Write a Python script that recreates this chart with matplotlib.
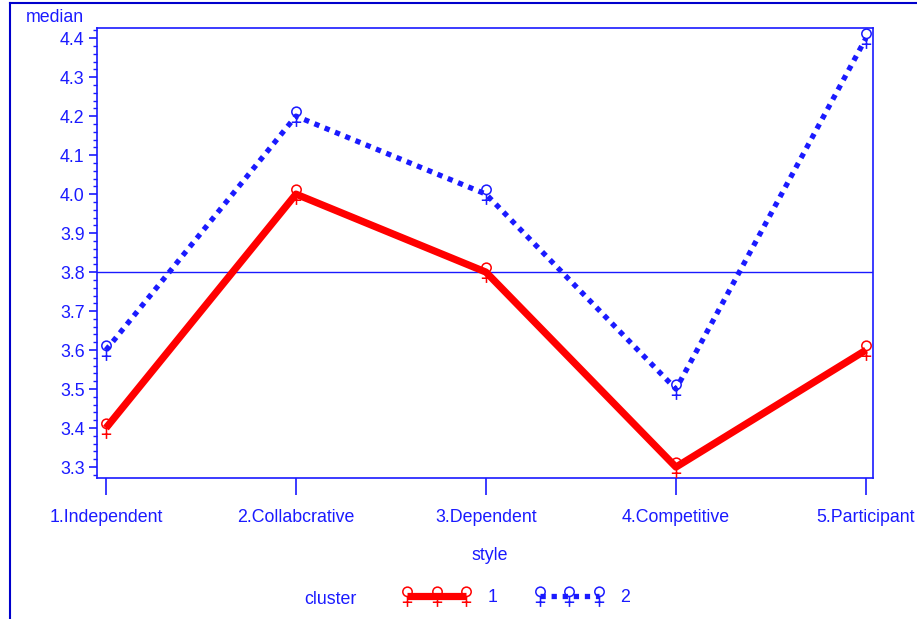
import matplotlib
matplotlib.use("Agg")
import matplotlib.pyplot as plt
from matplotlib.path import Path
from matplotlib.lines import Line2D
from matplotlib.ticker import MultipleLocator, AutoMinorLocator

styles = ["1.Independent", "2.Collabcrative", "3.Dependent", "4.Competitive", "5.Participant"]
cluster1 = [3.4, 4.0, 3.8, 3.3, 3.6]
cluster2 = [3.6, 4.2, 4.0, 3.5, 4.4]
ref_value = 3.8

BLUE = "#1a1aff"
RED = "#ff0000"
plt.rcParams["font.family"] = ["Liberation Sans", "DejaVu Sans"]

# SAS-like "female" symbol: circle on top, cross below
circle = Path.circle((0, 0.45), 0.45)
stem = Path([(0, 0.0), (0, -1.0), (-0.45, -0.55), (0.45, -0.55)],
            [Path.MOVETO, Path.LINETO, Path.MOVETO, Path.LINETO])
sym = Path.make_compound_path(circle, stem)

fig = plt.figure(figsize=(9.17, 6.19), dpi=100)
ax = fig.add_axes([97 / 917, 1 - 478 / 619, (873 - 97) / 917, (478 - 28) / 619])

x = list(range(1, len(styles) + 1))
ax.axhline(ref_value, color=BLUE, lw=1.0, zorder=1)
l1, = ax.plot(x, cluster1, color=RED, lw=5.2, solid_capstyle="butt",
              marker=sym, ms=15, mfc="none", mec=RED, mew=1.1, zorder=3)
l2, = ax.plot(x, cluster2, color=BLUE, lw=3.8, linestyle=(0, (1, 1.1)),
              dash_capstyle="butt", marker=sym, ms=15, mfc="none", mec=BLUE,
              mew=1.1, zorder=3)

ax.set_xlim(0.953, 5.037)
ax.set_ylim(3.272, 4.426)
ax.set_xticks(x)
ax.set_xticklabels(styles)
ax.yaxis.set_major_locator(MultipleLocator(0.1))
ax.yaxis.set_minor_locator(AutoMinorLocator(5))
ax.yaxis.set_major_formatter(plt.FormatStrFormatter("%.1f"))

for s in ax.spines.values():
    s.set_color(BLUE)
    s.set_linewidth(1.2)
ax.tick_params(axis="y", which="major", length=6, width=1.2, color=BLUE,
               labelcolor=BLUE, labelsize=12.8, pad=3)
ax.tick_params(axis="y", which="minor", length=3, width=1.0, color=BLUE)
ax.tick_params(axis="x", length=12, width=1.2, color=BLUE, labelcolor=BLUE,
               labelsize=12.8, pad=10)

fig.text(55 / 917, 1 - 17 / 619, "median", color=BLUE, fontsize=12.8,
         ha="center", va="center")
fig.text(490 / 917, 1 - 556 / 619, "style", color=BLUE, fontsize=12.8,
         ha="center", va="center")
fig.text(330 / 917, 1 - 600 / 619, "cluster", color=BLUE, fontsize=12.8,
         ha="center", va="center")

leg = fig.legend([l1, l2], ["1", "2"], ncol=2, loc="center left",
                 bbox_to_anchor=(386 / 917, 1 - 598 / 619), frameon=False,
                 numpoints=3, handlelength=3.9, columnspacing=2.1,
                 handletextpad=0.9, fontsize=12.8)
for t in leg.get_texts():
    t.set_color(BLUE)

# outer frame (left and top edges)
fig.add_artist(Line2D([10 / 917, 10 / 917], [0, 1 - 3 / 619], color="#0000cc", lw=1.5))
fig.add_artist(Line2D([10 / 917, 1], [1 - 3 / 619, 1 - 3 / 619], color="#0000cc", lw=1.5))

fig.savefig("out.png", dpi=100)
